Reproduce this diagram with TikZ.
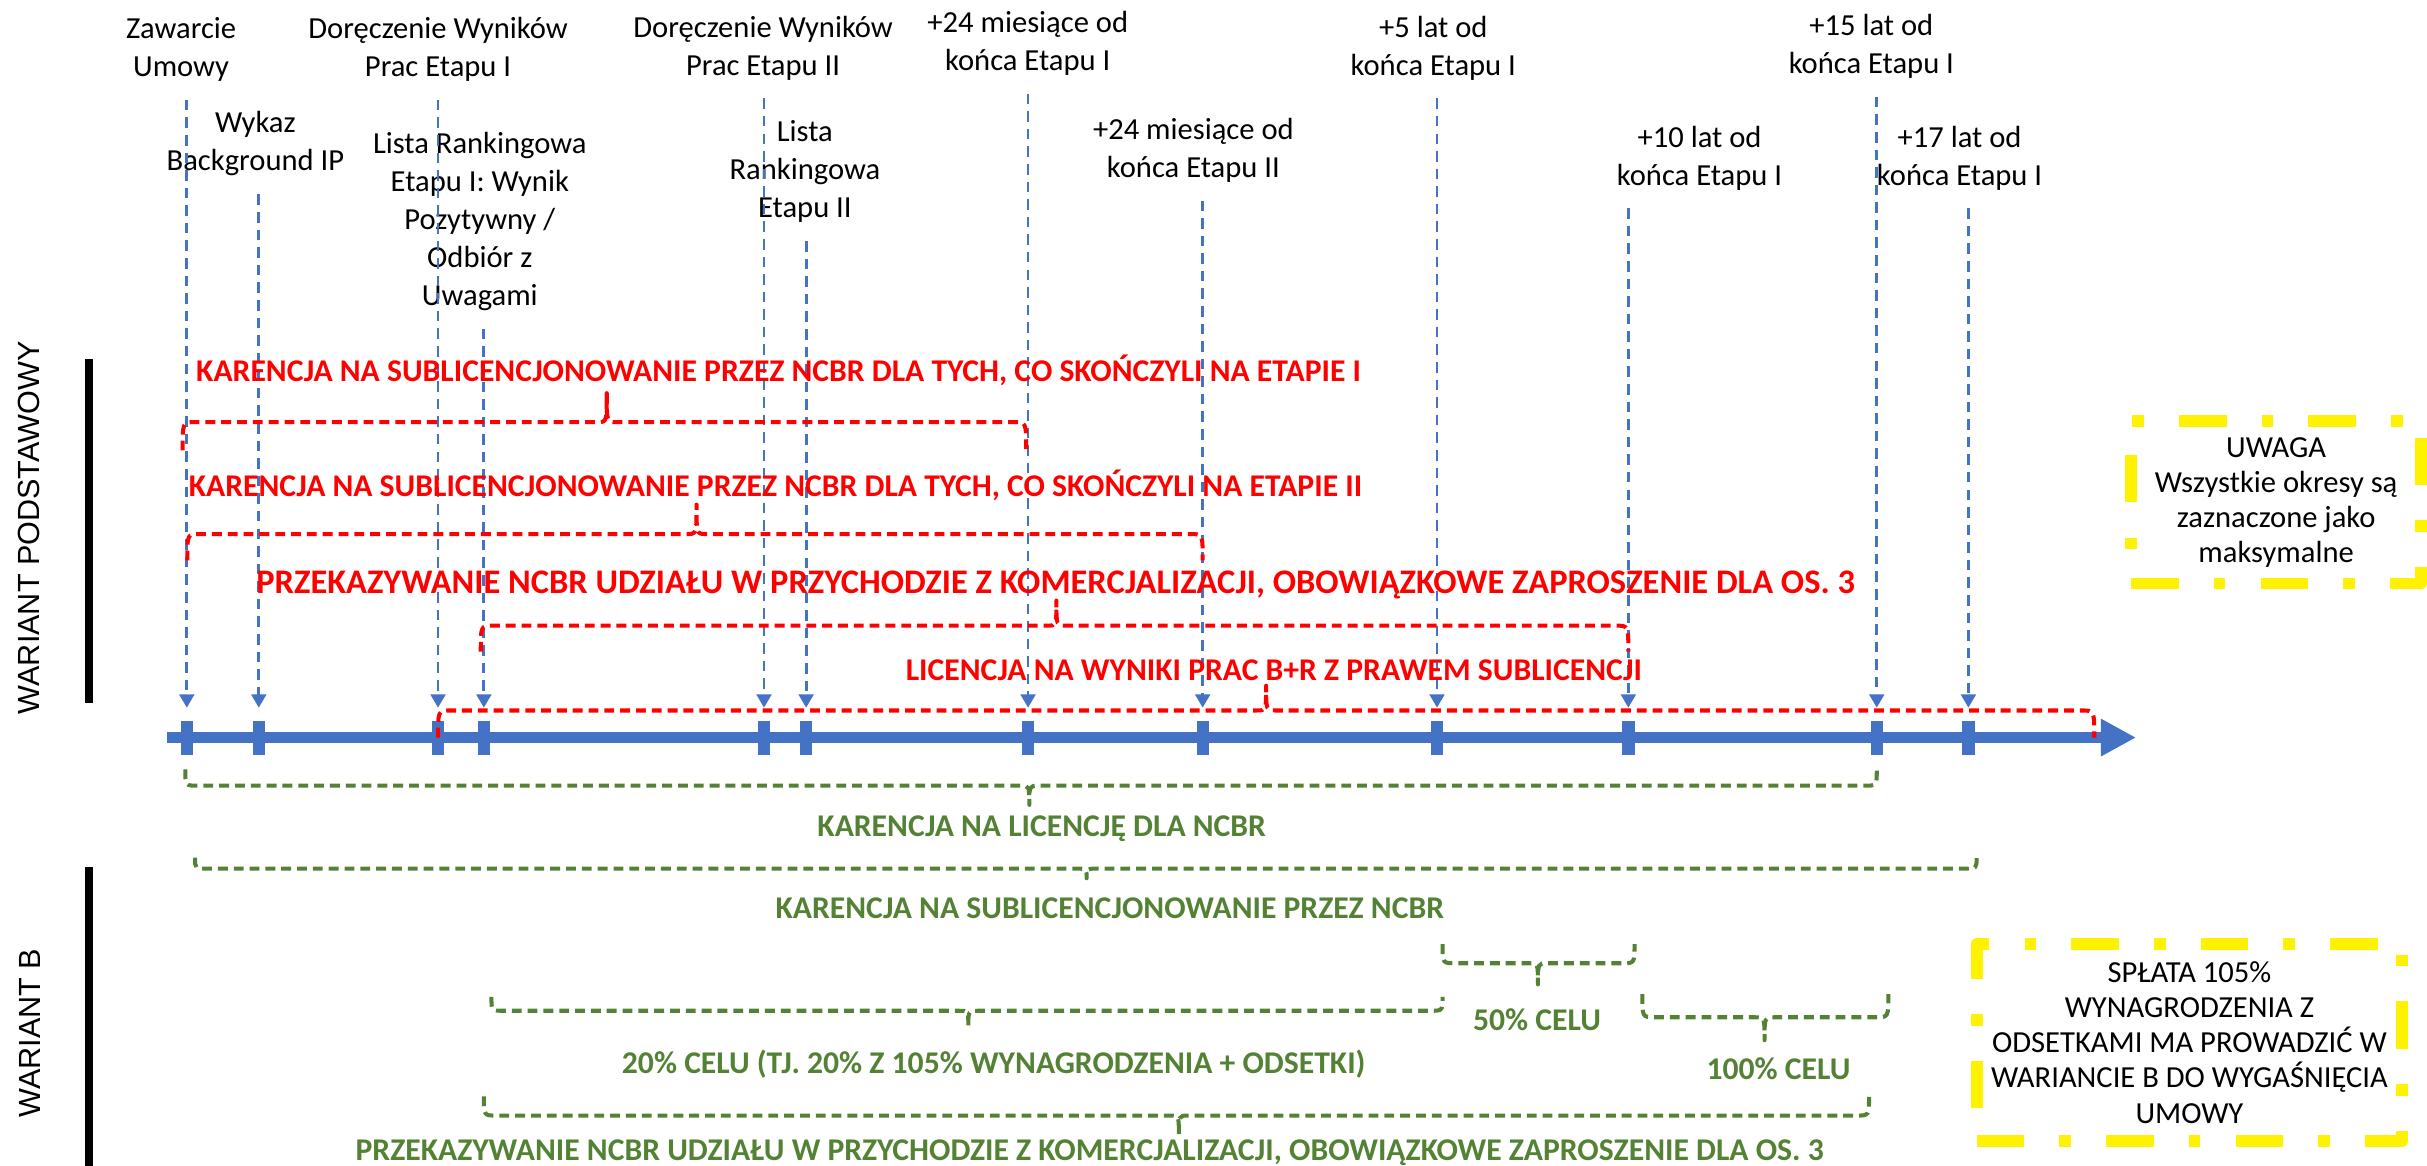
\documentclass[tikz,border=0pt]{standalone}
\usepackage{fontspec}
\setmainfont{Carlito}
\newfontfamily\arialfont{Liberation Sans}
\usetikzlibrary{arrows.meta}
\definecolor{osblue}{HTML}{4472C4}
\definecolor{osgreen}{HTML}{548235}
% klamra: styl, lewy x, prawy x, srodek x, linia y, konce y, szczyt y
\newcommand{\klamra}[7]{\draw[#1] (#2,#6) .. controls (#2,#5) .. (#2+8,#5) -- (#4-6,#5) .. controls (#4,#5) .. (#4,#7) .. controls (#4,#5) .. (#4+6,#5) -- (#3-8,#5) .. controls (#3,#5) .. (#3,#6);}

\begin{document}
\begin{tikzpicture}[x=0.01548cm, y=-0.01548cm, line join=round, >={Triangle[length=3.8pt,width=4.2pt]},
  lbl/.style={align=center, inner sep=0pt, font=\fontsize{8.7}{10.8}\selectfont},
  marker/.style={->, osblue, line width=0.8pt, dash pattern=on 3pt off 2pt, shorten <=5pt, shorten >=8.5pt},
  tick/.style={osblue, line width=3.5pt},
  axis/.style={osblue, line width=3.3pt, -{Triangle[length=10pt,width=10pt]}},
  redtxt/.style={red, inner sep=0pt, anchor=base, yshift=-2.9pt, font=\fontsize{9}{10.8}\selectfont\bfseries},
  greentxt/.style={redtxt, osgreen},
  redbr/.style={red, line width=1.15pt, dash pattern=on 2.8pt off 1.7pt},
  greenbr/.style={redbr, osgreen},
  note/.style={draw=yellow, line width=3.3pt, dash pattern=on 13.5pt off 10pt on 3.3pt off 10pt, align=center, inner sep=0pt, font=\fontsize{8.7}{10}\selectfont},
  side/.style={rotate=90, inner sep=0pt, font=\arialfont\fontsize{8.7}{10}\selectfont}]
  \useasboundingbox (0,0) rectangle (1568,753);

  % os czasu
  \draw[axis] (108,476.5) -- (1380,476.5);
  \coordinate (t1) at (120.7,476.5);
  \coordinate (t2) at (167.2,476.5);
  \coordinate (t3) at (283,476.5);
  \coordinate (t4) at (312.6,476.5);
  \coordinate (t5) at (493.6,476.5);
  \coordinate (t6) at (520.8,476.5);
  \coordinate (t7) at (664.2,476.5);
  \coordinate (t8) at (777,476.5);
  \coordinate (t9) at (928.4,476.5);
  \coordinate (t10) at (1052,476.5);
  \coordinate (t11) at (1212.5,476.5);
  \coordinate (t12) at (1271.7,476.5);
  \draw[tick] (t1) +(0,-11) -- +(0,11) (t2) +(0,-11) -- +(0,11) (t3) +(0,-11) -- +(0,11)
    (t4) +(0,-11) -- +(0,11) (t5) +(0,-11) -- +(0,11) (t6) +(0,-11) -- +(0,11)
    (t7) +(0,-11) -- +(0,11) (t8) +(0,-11) -- +(0,11) (t9) +(0,-11) -- +(0,11)
    (t10) +(0,-11) -- +(0,11) (t11) +(0,-11) -- +(0,11) (t12) +(0,-11) -- +(0,11);

  % zdarzenia
  \node[lbl] (l1) at (117,32) {Zawarcie\\Umowy};
  \node[lbl] (l2) at (165,93) {Wykaz\\Background IP};
  \node[lbl] (l3) at (283,32) {Doręczenie Wyników\\Prac Etapu I};
  \node[lbl] (l4) at (310,143) {Lista Rankingowa\\Etapu I: Wynik\\Pozytywny /\\Odbiór z\\Uwagami};
  \node[lbl] (l5) at (493,31) {Doręczenie Wyników\\Prac Etapu II};
  \node[lbl] (l6) at (520,111) {Lista\\Rankingowa\\Etapu II};
  \node[lbl] (l7) at (664,28) {+24 miesiące od\\końca Etapu I};
  \node[lbl] (l8) at (771,97) {+24 miesiące od\\końca Etapu II};
  \node[lbl] (l9) at (926,31) {+5 lat od\\końca Etapu I};
  \node[lbl] (l10) at (1098,102) {+10 lat od\\końca Etapu I};
  \node[lbl] (l11) at (1209,30) {+15 lat od\\końca Etapu I};
  \node[lbl] (l12) at (1266,102) {+17 lat od\\końca Etapu I};
  \draw[marker] (l1.south -| t1) -- (t1);
  \draw[marker] (l2.south -| t2) -- (t2);
  \draw[marker] (l3.south -| t3) -- (t3);
  \draw[marker] (l4.south -| t4) -- (t4);
  \draw[marker] (l5.south -| t5) -- (t5);
  \draw[marker] (l6.south -| t6) -- (t6);
  \draw[marker] (l7.south -| t7) -- (t7);
  \draw[marker] (l8.south -| t8) -- (t8);
  \draw[marker] (l9.south -| t9) -- (t9);
  \draw[marker] (l10.south -| t10) -- (t10);
  \draw[marker] (l11.south -| t11) -- (t11);
  \draw[marker] (l12.south -| t12) -- (t12);

  % wariant podstawowy
  \node[side] (wp) at (19,341) {WARIANT PODSTAWOWY};
  \draw[line width=2.2pt] (57.4,232) -- (57.4,454);
  \node[redtxt] (r1) at (503,240) {KARENCJA NA SUBLICENCJONOWANIE PRZEZ NCBR DLA TYCH, CO SKOŃCZYLI NA ETAPIE I};
  \klamra{redbr}{118}{663}{392}{272.7}{291}{254}
  \node[redtxt] (r2) at (501,314) {KARENCJA NA SUBLICENCJONOWANIE PRZEZ NCBR DLA TYCH, CO SKOŃCZYLI NA ETAPIE II};
  \klamra{redbr}{121}{777}{450}{345}{362}{326}
  \node[redtxt, font=\fontsize{9.8}{11}\selectfont\bfseries] (r3) at (682,377) {PRZEKAZYWANIE NCBR UDZIAŁU W PRZYCHODZIE Z KOMERCJALIZACJI, OBOWIĄZKOWE ZAPROSZENIE DLA OS. 3};
  \klamra{redbr}{310.6}{1052}{682.5}{404.2}{421}{388}
  \node[redtxt] (r4) at (823,433) {LICENCJA NA WYNIKI PRAC B+R Z PRAWEM SUBLICENCJI};
  \klamra{redbr}{283}{1353}{818}{459}{476.5}{443}
  \klamra{greenbr}{119.7}{1212.5}{665}{507.6}{497}{520}
  \node[greentxt] (g1) at (673,534) {KARENCJA NA LICENCJĘ DLA NCBR};

  % wariant B
  \node[side] (wb) at (19.4,667.5) {WARIANT B};
  \draw[line width=2.2pt] (57.4,560) -- (57.4,753);
  \klamra{greenbr}{126}{1277}{702}{561.2}{554}{567.4}
  \node[greentxt] (g2) at (717,587) {KARENCJA NA SUBLICENCJONOWANIE PRZEZ NCBR};
  \klamra{greenbr}{932}{1056}{993.6}{622.3}{610}{636}
  \node[greentxt] (g3) at (993,659) {50\% CELU};
  \klamra{greenbr}{317.5}{932}{625.6}{653}{644}{663.4}
  \node[greentxt] (g4) at (642,687) {20\% CELU (TJ. 20\% Z 105\% WYNAGRODZENIA + ODSETKI)};
  \klamra{greenbr}{1061}{1220}{1140}{657.2}{642.2}{672}
  \node[greentxt] (g5) at (1149,691) {100\% CELU};
  \klamra{greenbr}{312.6}{1207.5}{761.6}{720.7}{708.3}{733}
  \node[greentxt] (g6) at (704,743) {PRZEKAZYWANIE NCBR UDZIAŁU W PRZYCHODZIE Z KOMERCJALIZACJI, OBOWIĄZKOWE ZAPROSZENIE DLA OS. 3};

  % uwagi
  \node[note, minimum width=82.4pt, minimum height=46.3pt] (uwaga) at (1470.5,324.5) {UWAGA\\Wszystkie okresy są\\zaznaczone jako\\maksymalne};
  \node[note, minimum width=121pt, minimum height=56pt] (splata) at (1414.5,673.5) {SPŁATA 105\%\\WYNAGRODZENIA Z\\ODSETKAMI MA PROWADZIĆ W\\WARIANCIE B DO WYGAŚNIĘCIA\\UMOWY};
\end{tikzpicture}
\end{document}
